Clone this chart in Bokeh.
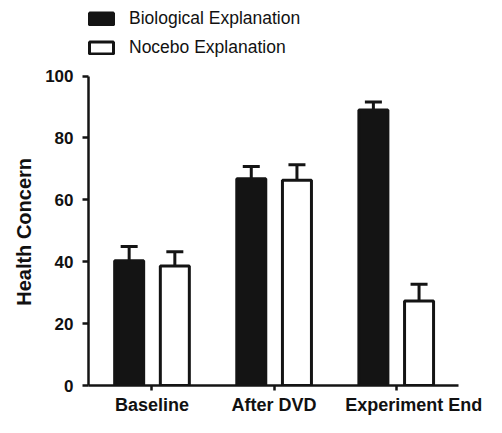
from bokeh.plotting import figure
from bokeh.models import (Range1d, FixedTicker, Legend, LegendItem, Whisker, TeeHead,
                          ColumnDataSource)
from bokeh.embed import file_html
from bokeh.resources import INLINE

# ---- data ----
categories = ["Baseline", "After DVD", "Experiment End"]
series_names = ["Biological Explanation", "Nocebo Explanation"]
bio_mean = [40.3, 66.8, 89.0]
bio_sem = [4.6, 4.0, 2.6]
noc_mean = [38.6, 66.3, 27.3]
noc_sem = [4.6, 5.0, 5.4]
y_ticks = [0, 20, 40, 60, 80, 100]
y_label = "Health Concern"

FONT = "Liberation Sans"
DARK = "#141414"
OFF = 0.187
W = 0.2375
NB = "\u00a0"

p = figure(width=486, height=417, output_backend="svg", toolbar_location=None,
           x_range=Range1d(-0.52, 2.51), y_range=Range1d(0, 124.4),
           min_border_left=88, min_border_right=28, min_border_top=0, min_border_bottom=30)
p.outline_line_color = None
p.xgrid.visible = False
p.ygrid.visible = False
p.background_fill_color = "white"

xs = list(range(len(categories)))
bio_x = [x - OFF for x in xs]
noc_x = [x + OFF for x in xs]

bio_src = ColumnDataSource(dict(x=bio_x, top=bio_mean,
                                upper=[m + s for m, s in zip(bio_mean, bio_sem)]))
noc_src = ColumnDataSource(dict(x=noc_x, top=noc_mean,
                                upper=[m + s for m, s in zip(noc_mean, noc_sem)]))

r_bio = p.vbar(x="x", top="top", bottom=0, width=W, source=bio_src,
               fill_color=DARK, line_color=DARK, line_width=3)
r_noc = p.vbar(x="x", top="top", bottom=0, width=W, source=noc_src,
               fill_color="white", line_color=DARK, line_width=3)

for src in (bio_src, noc_src):
    wk = Whisker(source=src, base="x", lower="top", upper="upper", dimension="height",
                 upper_head=TeeHead(size=17, line_width=3, line_color=DARK),
                 lower_head=None, line_width=3, line_color=DARK, level="annotation")
    p.add_layout(wk)

# y axis
ya = p.yaxis[0]
ya.ticker = FixedTicker(ticks=y_ticks)
ya.bounds = (y_ticks[0], y_ticks[-1])
ya.axis_line_width = 2.5
ya.axis_line_color = DARK
ya.major_tick_line_width = 2.5
ya.major_tick_line_color = DARK
ya.major_tick_out = 6
ya.major_tick_in = 0
ya.minor_tick_line_color = None
ya.major_label_text_font = FONT
ya.major_label_text_font_style = "bold"
ya.major_label_text_font_size = "17px"
ya.major_label_text_color = "#111111"
ya.major_label_standoff = 9
ya.axis_label = y_label + NB * 14
ya.axis_label_text_font = FONT
ya.axis_label_text_font_style = "bold"
ya.axis_label_text_font_size = "20px"
ya.axis_label_text_color = "#111111"
ya.axis_label_standoff = 7

# x axis
xa = p.xaxis[0]
xa.ticker = FixedTicker(ticks=xs)
labels = list(categories)
labels[2] = NB * 7 + labels[2]
xa.major_label_overrides = {i: lab for i, lab in zip(xs, labels)}
xa.major_label_text_font = FONT
xa.major_label_text_font_style = "bold"
xa.major_label_text_font_size = "18px"
xa.major_label_text_color = "#111111"
xa.major_label_standoff = 4
xa.axis_line_width = 2.5
xa.axis_line_color = DARK
xa.major_tick_line_width = 2.5
xa.major_tick_line_color = DARK
xa.major_tick_out = 5
xa.major_tick_in = 0
xa.minor_tick_line_color = None

legend = Legend(items=[LegendItem(label=series_names[0], renderers=[r_bio]),
                       LegendItem(label=series_names[1], renderers=[r_noc])],
                location=(-2, 327), orientation="vertical",
                glyph_width=30, glyph_height=15, label_standoff=13, spacing=8,
                padding=0, margin=0, border_line_color=None, background_fill_alpha=0,
                label_text_font=FONT, label_text_font_size="17.5px", label_text_color="#111111")
p.add_layout(legend)

open("out.html", "w").write(file_html(p, INLINE))
